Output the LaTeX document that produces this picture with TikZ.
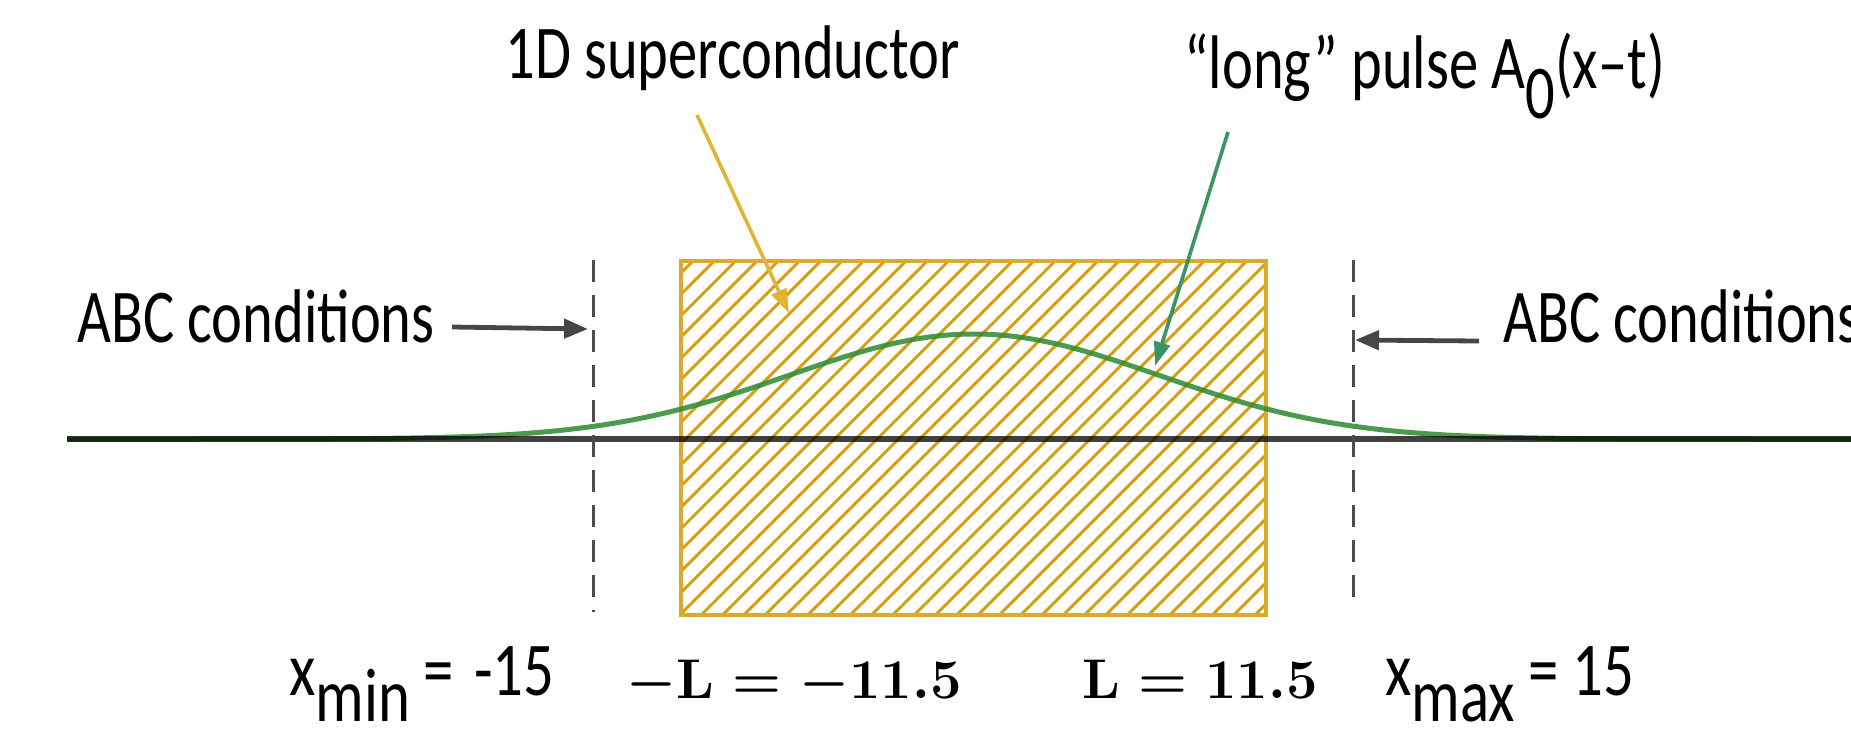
\documentclass[tikz,border=0pt]{standalone}
\usepackage{fix-cm}
\usepackage[no-math]{fontspec}
\setmainfont{Carlito}
\usetikzlibrary{arrows.meta}
\definecolor{gold}{RGB}{212,160,22}
\definecolor{boxgold}{RGB}{218,170,40}
\definecolor{goldarrow}{RGB}{224,180,55}
\definecolor{pulsegreen}{RGB}{50,140,52}
\definecolor{tealgreen}{RGB}{58,148,100}
\definecolor{darkarrow}{RGB}{70,70,70}
\definecolor{dashgrey}{RGB}{75,75,75}
\newcommand{\cond}[1]{\scalebox{0.77}[1]{#1}}
\newcommand{\bnd}[1]{\scalebox{0.8}[1]{#1}}
\begin{document}
\begin{tikzpicture}[x=0.5pt,y=-0.5pt,
  lab/.style={inner sep=0pt, font=\fontsize{38}{44}\selectfont},
  mlab/.style={inner sep=0pt, font=\fontsize{28}{34}\selectfont\boldmath},
  ptr/.style={line width=2.4pt, darkarrow, -{Triangle[length=12pt,width=9.5pt]}},
  goldptr/.style={line width=1.8pt, goldarrow, -{Triangle[length=12pt,width=8pt]}},
  greenptr/.style={line width=1.8pt, tealgreen, -{Triangle[length=12pt,width=8pt]}},
  hatchline/.style={line width=1.5pt, gold},
  boxedge/.style={line width=1.6pt, boxgold},
  axisline/.style={line width=2.7pt, black, opacity=0.75},
  pulse/.style={line width=2.5pt, pulsegreen, opacity=0.88},
  abc/.style={line width=1.5pt, dashgrey, dash pattern=on 11pt off 6.5pt}
]
\useasboundingbox (0,0) rectangle (1851,730);
\clip (0,0) rectangle (1851,730);

% superconductor box with hatching
\coordinate (boxNW) at (681,261);
\coordinate (boxSE) at (1266,615);
\begin{scope}
  \clip (boxNW) rectangle (boxSE);
  \foreach \k in {-1,...,45}
    \draw[hatchline] ({693+21.3*\k},261) -- ++(-354,354);
\end{scope}
\draw[boxedge] (boxNW) rectangle (boxSE);

% pulse
\draw[pulse] plot[domain=67:1851, samples=300] (\x, {439-105*exp(-((\x-974)/185)^2/2)});

% axis
\coordinate (axL) at (67,439);
\coordinate (axR) at (1851,439);
\draw[axisline] (axL) -- (axR);

% ABC boundaries
\coordinate (bLtop) at (593,260);
\coordinate (bLbot) at (593,612);
\coordinate (bRtop) at (1353,260);
\coordinate (bRbot) at (1353,608);
\draw[abc] (bLtop) -- (bLbot);
\draw[abc] (bRtop) -- (bRbot);

% labels
\node[lab, anchor=base west] (abcL) at (77,342) {\cond{ABC conditions}};
\node[lab, anchor=base west] (abcR) at (1503,342) {\cond{ABC conditions}};
\node[lab, anchor=base west] (sc) at (505,78) {\cond{1D superconductor}};
\node[lab, anchor=base west] (pl) at (1184,88) {\cond{“long” pulse A\raisebox{-15pt}{0}(x–t)}};
\node[lab, anchor=base west] (xmin) at (289,695) {\bnd{x\raisebox{-13pt}{min} =\hspace{4pt} -15}};
\node[lab, anchor=base west] (xmax) at (1385,695) {\bnd{x\raisebox{-13pt}{max} = 15}};
\node[mlab, anchor=base] (mL) at (794,698) {$-\mathrm{L}=-11.5$};
\node[mlab, anchor=base] (pL) at (1200,698) {$\mathrm{L}=11.5$};

% pointers
\coordinate (aLs) at (452,327);
\coordinate (aLe) at (588,329);
\coordinate (aRs) at (1479,341);
\coordinate (aRe) at (1355,340);
\draw[ptr] (aLs) -- (aLe);
\draw[ptr] (aRs) -- (aRe);
\coordinate (scs) at (697,115);
\coordinate (sce) at (789,313);
\draw[goldptr] (scs) -- (sce);
\coordinate (pls) at (1228,132);
\coordinate (ple) at (1155,366);
\draw[greenptr] (pls) -- (ple);
\end{tikzpicture}
\end{document}
